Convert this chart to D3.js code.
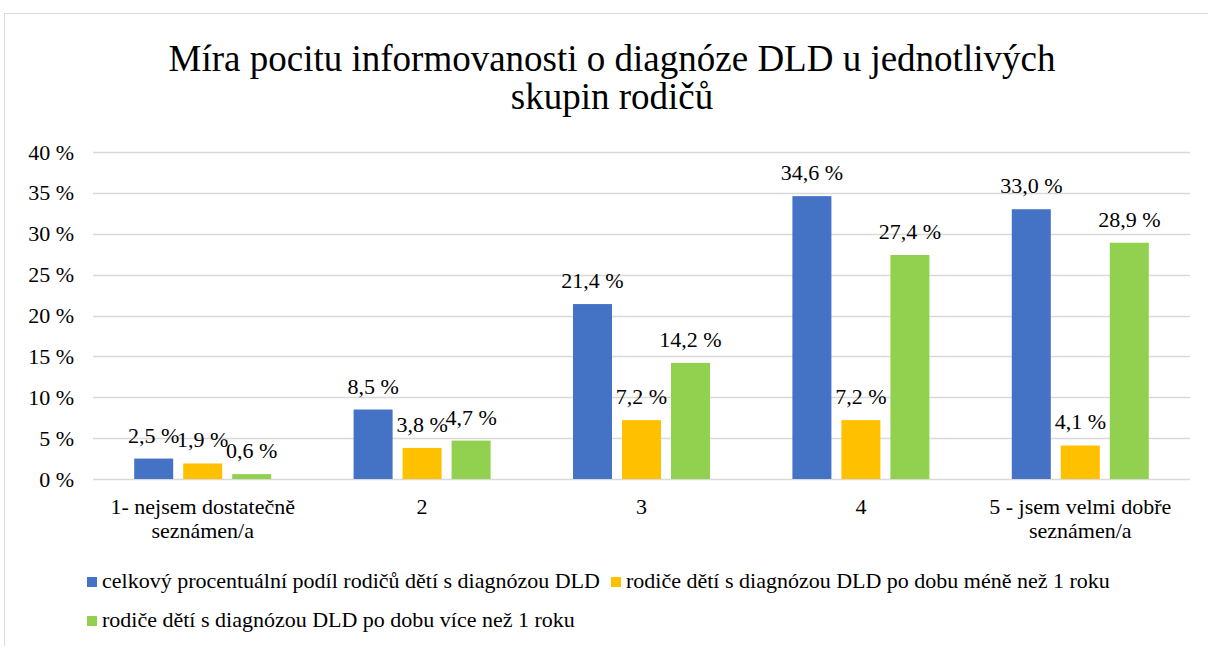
<!DOCTYPE html>
<html>
<head>
<meta charset="utf-8">
<script src="https://cdn.jsdelivr.net/npm/d3@7"></script>
</head>
<body style="margin:0; background:#fff">
<script>
const categories = [
  ["1- nejsem dostatečně", "seznámen/a"],
  ["2"],
  ["3"],
  ["4"],
  ["5 - jsem velmi dobře", "seznámen/a"]
]
const seriesNames = [
  "celkový procentuální podíl rodičů dětí s diagnózou DLD",
  "rodiče dětí s diagnózou DLD po dobu méně než 1 roku",
  "rodiče dětí s diagnózou DLD po dobu více než 1 roku"
]
const colors = ["#4472C4", "#FFC000", "#92D050"]
const totalShare = [2.5, 8.5, 21.4, 34.6, 33.0]
const lessThanYear = [1.9, 3.8, 7.2, 7.2, 4.1]
const moreThanYear = [0.6, 4.7, 14.2, 27.4, 28.9]
const yTicks = [0, 5, 10, 15, 20, 25, 30, 35, 40]
const titleLines = ["Míra pocitu informovanosti o diagnóze DLD u jednotlivých", "skupin rodičů"]

const series = [totalShare, lessThanYear, moreThanYear]

const width = 1208, height = 646
const plot = {left: 93, right: 1190, top: 152, bottom: 479}
const FONT = '"Liberation Serif"'

const cz = d3.formatLocale({decimal: ",", thousands: " ", grouping: [3], currency: ["", ""]})
const fmt1 = cz.format(".1f")

const svg = d3.select("body").append("svg")
  .attr("width", width)
  .attr("height", height)

// chart frame (only top and left edges are visible in the picture)
svg.append("path")
  .attr("d", "M4.5,660 V13.5 H1220")
  .attr("fill", "none")
  .attr("stroke", "#d9d9d9")
  .attr("stroke-width", 1)

svg.append("g").selectAll("text")
  .data(titleLines)
  .join("text")
  .attr("x", 612)
  .attr("y", (d, i) => 71 + i * 38)
  .attr("text-anchor", "middle")
  .attr("font-size", 37)
  .style("font-family", FONT)
  .text(d => d)

const y = d3.scaleLinear().domain([0, 40]).range([plot.bottom, plot.top])

const x0 = d3.scaleBand()
  .domain(d3.range(categories.length))
  .range([plot.left, plot.right])

const groupW = 137
const x1 = d3.scaleBand()
  .domain(d3.range(series.length))
  .range([x0.bandwidth() / 2 - groupW / 2, x0.bandwidth() / 2 + groupW / 2])
  .paddingInner(10 / 49)

// grid
svg.append("g").selectAll("line")
  .data(yTicks)
  .join("line")
  .attr("x1", plot.left)
  .attr("x2", plot.right)
  .attr("y1", d => Math.round(y(d)) + 0.5)
  .attr("y2", d => Math.round(y(d)) + 0.5)
  .attr("stroke", "#d9d9d9")
  .attr("stroke-width", 1.5)

// y axis labels
const yAxis = d3.axisLeft(y)
  .tickValues(yTicks)
  .tickSize(0)
  .tickPadding(0)
  .tickFormat(d => d + " %")

svg.append("g")
  .attr("transform", "translate(74,0)")
  .call(yAxis)
  .call(g => g.select(".domain").remove())
  .call(g => g.selectAll("text")
    .attr("font-size", 22)
    .style("font-family", FONT)
    .attr("fill", "#000"))

// category labels
const catG = svg.append("g").selectAll("text")
  .data(categories)
  .join("text")
  .attr("x", (d, i) => x0(i) + x0.bandwidth() / 2)
  .attr("y", 514)
  .attr("text-anchor", "middle")
  .attr("font-size", 22)
  .style("font-family", FONT)

catG.selectAll("tspan")
  .data(d => d)
  .join("tspan")
  .attr("x", function() { return this.parentNode.getAttribute("x") })
  .attr("dy", (d, i) => i === 0 ? 0 : 24)
  .text(d => d)

// bars
const groups = svg.append("g").selectAll("g")
  .data(categories.map((c, i) => i))
  .join("g")
  .attr("transform", i => `translate(${x0(i)},0)`)

const cells = i => series.map((s, k) => ({k, v: s[i]}))

groups.selectAll("rect")
  .data(cells)
  .join("rect")
  .attr("x", d => x1(d.k))
  .attr("width", x1.bandwidth())
  .attr("y", d => y(d.v))
  .attr("height", d => y(0) - y(d.v))
  .attr("fill", d => colors[d.k])

groups.selectAll("text")
  .data(cells)
  .join("text")
  .attr("x", d => x1(d.k) + x1.bandwidth() / 2)
  .attr("y", d => y(d.v) - 16)
  .attr("text-anchor", "middle")
  .attr("font-size", 22)
  .style("font-family", FONT)
  .text(d => fmt1(d.v) + " %")

// legend
const legendPos = [[87, 588], [611, 588], [87, 627]]
const leg = svg.append("g").selectAll("g")
  .data(seriesNames)
  .join("g")
  .attr("transform", (d, i) => `translate(${legendPos[i][0]},${legendPos[i][1]})`)

leg.append("rect")
  .attr("x", 0)
  .attr("y", -11)
  .attr("width", 10)
  .attr("height", 10)
  .attr("fill", (d, i) => colors[i])

leg.append("text")
  .attr("x", 15)
  .attr("y", 0)
  .attr("font-size", 22)
  .style("font-family", FONT)
  .text(d => d)
</script>
</body>
</html>
